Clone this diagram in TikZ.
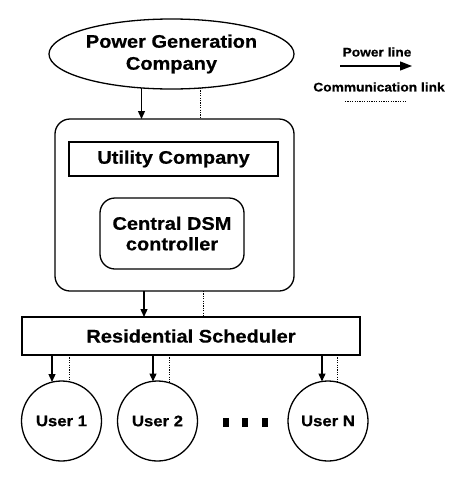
\documentclass[tikz,border=0pt]{standalone}
\usepackage{fontspec}
\setmainfont{Liberation Sans}[FakeStretch=1.1,BoldFeatures={FakeBold=0.6}]
\usetikzlibrary{shapes.geometric,arrows.meta,calc}
\begin{document}
\begin{tikzpicture}[x=1pt,y=-1pt,
  every node/.style={inner sep=0pt,outer sep=0pt,line width=1.3pt},
  big/.style={font=\bfseries\fontsize{18.2}{22}\selectfont,align=center},
  usr/.style={draw,circle,minimum size=80pt,font=\bfseries\fontsize{15.2}{18}\selectfont},
  leg/.style={font=\bfseries\fontsize{12.5}{15}\selectfont},
  pw/.style={line width=1.3pt,-{Triangle[length=8pt,width=7pt]}},
  commline/.style={line width=1pt,dash pattern=on 1.2pt off 1.2pt},
  dotbox/.style={fill=black,minimum width=6pt,minimum height=9pt}]
\useasboundingbox (0,0) rectangle (470,480);
% nodes
\node[big,draw,ellipse,minimum width=245pt,minimum height=70pt] (gen) at (171.5,54) {Power Generation\\Company};
\node[draw,rounded corners=15pt,minimum width=239pt,minimum height=172pt] (util) at (174.5,205) {};
\node[big,draw,minimum width=209pt,minimum height=34pt] (uc) at (173.5,159) {Utility Company};
\node[big,draw,rounded corners=15pt,minimum width=144pt,minimum height=71pt,font=\bfseries\fontsize{18.2}{20.5}\selectfont] (dsm) at (172,233.5) {Central DSM\\controller};
\node[big,draw,minimum width=338pt,minimum height=38pt] (rs) at (191,336) {Residential Scheduler};
\node[usr] (u1) at (61.5,421) {User 1};
\node[usr] (u2) at (157.5,421) {User 2};
\node[usr] (uN) at (328,421) {User N};
\node[dotbox] (d1) at (226,422) {};
\node[dotbox] (d2) at (245,422) {};
\node[dotbox] (d3) at (265,422) {};
% legend
\node[leg] (lp) at (377,52) {Power line};
\node[leg] (lc) at (379,87) {Communication link};
\coordinate (lpa) at (340,66);
\coordinate (lpb) at (412,66);
\coordinate (lca) at (345,101);
\coordinate (lcb) at (407,101);
\draw[line width=1.3pt,-{Triangle[length=12pt,width=9pt]}] (lpa) -- (lpb);
\draw[commline] (lca) -- (lcb);
% connectors
\draw[pw] ($(gen.south)+(-30,-1)$) -- ($(util.north)+(-33,0)$);
\draw[commline] ($(gen.south)+(28.5,-1)$) -- ($(util.north)+(25.5,0)$);
\draw[pw] ($(util.south)+(-30.5,0)$) -- ($(rs.north)+(-47,0)$);
\draw[commline] ($(util.south)+(28.5,0)$) -- ($(rs.north)+(12,0)$);
\coordinate (a1) at ($(u1.north)+(-9.5,1)$);
\coordinate (a2) at ($(u2.north)+(-4.5,0.5)$);
\coordinate (aN) at ($(uN.north)+(-6,0.5)$);
\coordinate (c1) at ($(u1.north)+(7.5,1)$);
\coordinate (c2) at ($(u2.north)+(11.5,1.5)$);
\coordinate (cN) at ($(uN.north)+(9,1)$);
\draw[pw] (rs.south -| a1) -- (a1);
\draw[pw] (rs.south -| a2) -- (a2);
\draw[pw] (rs.south -| aN) -- (aN);
\draw[commline] (rs.south -| c1) -- (c1);
\draw[commline] (rs.south -| c2) -- (c2);
\draw[commline] (rs.south -| cN) -- (cN);
\end{tikzpicture}
\end{document}
